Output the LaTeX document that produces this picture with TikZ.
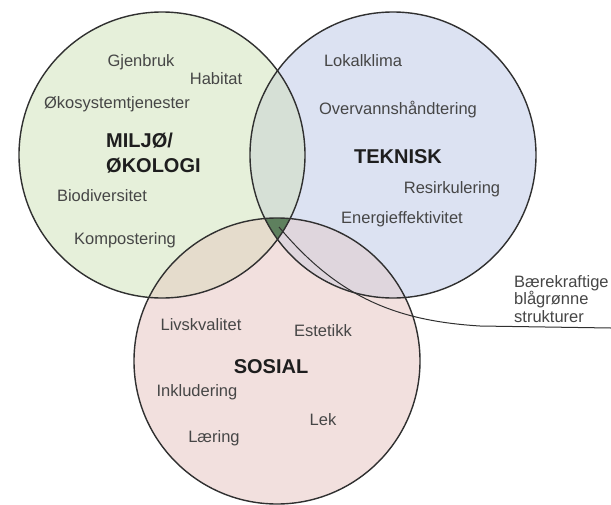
\documentclass[tikz,border=0pt]{standalone}
\usepackage{fontspec}
\setmainfont{Liberation Sans}
\definecolor{miljo}{HTML}{E6F0DA}
\definecolor{teknisk}{HTML}{DCE2F2}
\definecolor{sosial}{HTML}{F2E0DE}
\definecolor{miljoteknisk}{HTML}{D6E0D6}
\definecolor{miljososial}{HTML}{E5DCCC}
\definecolor{tekniksosial}{HTML}{DFD6DD}
\definecolor{kjerne}{HTML}{5E805E}
\definecolor{ring}{HTML}{303030}
\definecolor{ordfarge}{HTML}{464646}
\definecolor{tittel}{HTML}{1E1E1E}
\begin{document}
\begin{tikzpicture}[x=1pt,y=-1pt,
    ringline/.style={draw=ring,line width=1.4pt},
    leader/.style={draw=ring,line width=1pt},
    word/.style={text=ordfarge,inner sep=0pt,font=\fontsize{16.5}{19}\selectfont,
      text height=12pt,text depth=3.5pt},
    heading/.style={text=tittel,inner sep=0pt,font=\fontsize{20}{23}\bfseries\selectfont,
      text height=14.5pt,text depth=0pt},
    note/.style={text=ordfarge,inner sep=0pt,align=left,
      font=\fontsize{16.5}{17.5}\selectfont}]
\useasboundingbox (0,0) rectangle (611,504);
\fill[white] (0,0) rectangle (611,504);

% circle centres
\coordinate (cG) at (162,155);
\coordinate (cB) at (393,155);
\coordinate (cS) at (277,361);

% base fills
\fill[miljo]   (cG) circle[radius=143pt];
\fill[teknisk] (cB) circle[radius=143pt];
\fill[sosial]  (cS) circle[radius=143pt];

% pairwise overlaps
\begin{scope}
  \clip (cG) circle[radius=143pt];
  \fill[miljoteknisk] (cB) circle[radius=143pt];
\end{scope}
\begin{scope}
  \clip (cG) circle[radius=143pt];
  \fill[miljososial] (cS) circle[radius=143pt];
\end{scope}
\begin{scope}
  \clip (cB) circle[radius=143pt];
  \fill[tekniksosial] (cS) circle[radius=143pt];
\end{scope}
% common core of all three
\begin{scope}
  \clip (cG) circle[radius=143pt];
  \clip (cB) circle[radius=143pt];
  \fill[kjerne] (cS) circle[radius=143pt];
\end{scope}

% outlines
\draw[ringline] (cG) circle[radius=143pt];
\draw[ringline] (cB) circle[radius=143pt];
\draw[ringline] (cS) circle[radius=143pt];

% leader from the core to the note
\coordinate (core) at (279,227);
\coordinate (tail) at (611,328);
\node[note,anchor=north west] (bbs) at (514,275) {Bærekraftige\\blågrønne\\strukturer};
\draw[leader] (core) .. controls (340,300) and (400,321) .. (480,326) -- (tail);

% Miljø / økologi
\node[word] (gjenbruk) at (141,62) {Gjenbruk};
\node[word] (habitat) at (216,80) {Habitat};
\node[word] (okosys) at (117,104) {Økosystemtjenester};
\node[heading,anchor=west] (miljo1) at (106,140) {MILJØ/};
\node[heading,anchor=west] (miljo2) at (106,165) {ØKOLOGI};
\node[word] (biodiv) at (102,197) {Biodiversitet};
\node[word] (kompost) at (125,240) {Kompostering};

% Teknisk
\node[word] (lokal) at (363,62) {Lokalklima};
\node[word] (overvann) at (398,110) {Overvannshåndtering};
\node[heading] (tekn) at (398,156) {TEKNISK};
\node[word] (resirk) at (452,189) {Resirkulering};
\node[word] (energi) at (402,219) {Energieffektivitet};

% Sosial
\node[word] (livs) at (201,326) {Livskvalitet};
\node[word] (estetikk) at (323,332) {Estetikk};
\node[heading] (sosial) at (271,366) {SOSIAL};
\node[word] (inklud) at (197,392) {Inkludering};
\node[word] (lek) at (323,421) {Lek};
\node[word] (laering) at (214,438) {Læring};
\end{tikzpicture}
\end{document}
